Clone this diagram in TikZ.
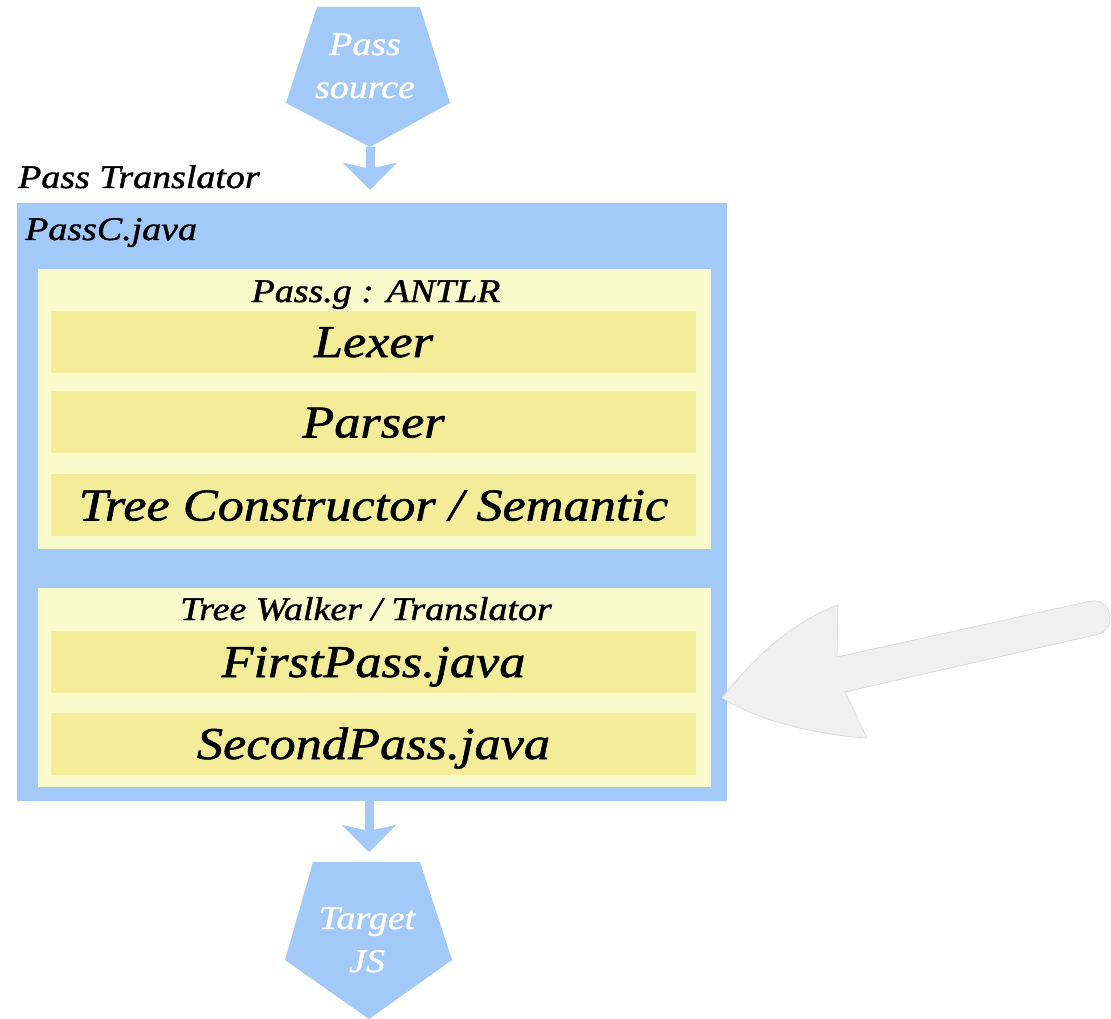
\documentclass[tikz,border=0pt]{standalone}
\usepackage{fontspec}
\setmainfont{Liberation Serif}[FakeStretch=1.15,FakeBold=1.2]
\usetikzlibrary{arrows.meta}
\definecolor{pblue}{RGB}{163,201,248}
\definecolor{pyel}{RGB}{250,250,204}
\definecolor{dyel}{RGB}{243,237,154}
\definecolor{agray}{RGB}{240,240,240}
\definecolor{agrayb}{RGB}{220,220,220}
\tikzset{
  box/.style={fill=#1, draw=none, inner sep=0pt},
  bar/.style={fill=dyel, draw=none, inner sep=0pt, minimum width=645pt, minimum height=62pt,
     text height=31pt, text depth=0pt, font=\fontsize{45.5}{50}\selectfont\itshape},
  lab/.style={inner sep=0pt, font=\fontsize{33}{43}\selectfont\itshape},
  io/.style={inner sep=0pt, text=white, align=center, font=\fontsize{33}{43}\selectfont\itshape},
  flow/.style={draw=pblue, line width=9pt, -{Stealth[length=27pt,width=54pt,inset=6pt]}},
}
\begin{document}
\begin{tikzpicture}[x=1pt,y=-1pt]
\useasboundingbox (0,0) rectangle (1111,1019);
% outer container
\node[box=pblue, minimum width=710pt, minimum height=598pt] (outer) at (372,502) {};
\node[box=pyel, minimum width=673pt, minimum height=280pt] (antlr) at (374.5,409) {};
\node[box=pyel, minimum width=673pt, minimum height=199pt] (walker) at (374.5,687.5) {};
% bars
\node[bar] (lexer) at (373.5,341.5) {Lexer};
\node[bar] (parser) at (373.5,422) {Parser};
\node[bar] (tree) at (373.5,505) {Tree Constructor / Semantic};
\node[bar] (first) at (373.5,661.5) {FirstPass.java};
\node[bar] (second) at (373.5,743.5) {SecondPass.java};
% labels
\node[lab, anchor=base west] (ptlabel) at (18,188) {Pass Translator};
\node[lab, anchor=base west] (pclabel) at (25,240) {PassC.java};
\node[lab, anchor=base] (antlrlabel) at (376,302) {Pass.g : ANTLR};
\node[lab, anchor=base] (walkerlabel) at (366,620) {Tree Walker / Translator};
% source pentagon
\fill[pblue] (317,7) -- (420,7) -- (450,103) -- (370,147) -- (286,103) -- cycle;
\coordinate (srcapex) at (370,147);
\node[io, anchor=base] (srctxt) at (365,98) {Pass\\source};
% target pentagon
\fill[pblue] (313,862) -- (420,862) -- (452,960) -- (369,1019) -- (285,960) -- cycle;
\coordinate (tgttop) at (369,862);
\node[io, anchor=base] (tgttxt) at (367,972) {Target\\JS};
% flow arrows
\draw[flow, shorten >=13pt] (srcapex) -- (srcapex |- outer.north);
\draw[flow, shorten >=10pt] (outer.south -| tgttop) -- (tgttop);
% gray arrow
\coordinate (gtip) at (722,698);
\filldraw[fill=agray, draw=agrayb, line width=0.8pt]
  (gtip) .. controls (745,668) and (785,625) .. (838,605)
  -- (837,657) -- (1089.7,601.3)
  .. controls (1112,597) and (1118.7,630.3) .. (1096.3,634.7)
  -- (845,692) -- (867,738)
  .. controls (820,735) and (760,722) .. (gtip) -- cycle;
\end{tikzpicture}
\end{document}
